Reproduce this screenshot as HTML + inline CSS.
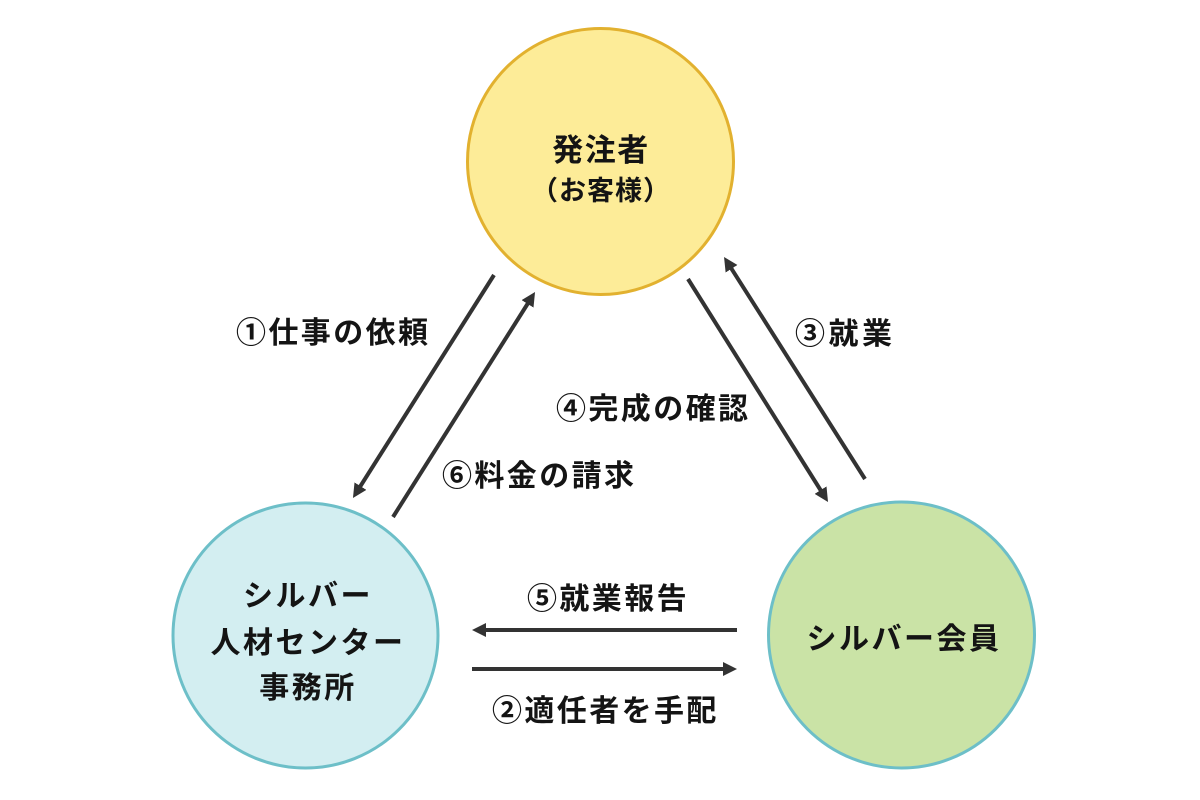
<!DOCTYPE html>
<html>
<head>
<meta charset="utf-8">
<style>
html,body{margin:0;padding:0;background:#fff;}
svg{display:block;}
text{font-family:"Liberation Sans","Noto Sans CJK JP",sans-serif;font-weight:700;fill:#141414;}
</style>
</head>
<body>
<svg width="1200" height="800" viewBox="0 0 1200 800" xmlns="http://www.w3.org/2000/svg">
<defs>
<marker id="ah" markerUnits="userSpaceOnUse" markerWidth="16" markerHeight="16" refX="4" refY="7" orient="auto">
<path d="M0,0 L14,7 L0,14 z" fill="#333"/>
</marker>
</defs>

<!-- circles -->
<circle cx="600.5" cy="161.5" r="133" fill="#fdec98" stroke="#e2b12f" stroke-width="3"/>
<circle cx="305.5" cy="635.5" r="132.5" fill="#d3eef1" stroke="#6dbfc8" stroke-width="3"/>
<circle cx="901.5" cy="635" r="133" fill="#cae3a6" stroke="#6dbfc8" stroke-width="3"/>

<!-- arrows -->
<g stroke="#333" stroke-width="4" fill="none">
<line x1="494" y1="275" x2="358.3" y2="489.5" marker-end="url(#ah)"/>
<line x1="393" y1="517" x2="529.7" y2="300.5" marker-end="url(#ah)"/>
<line x1="688" y1="279" x2="822.7" y2="493.5" marker-end="url(#ah)"/>
<line x1="865" y1="479" x2="729.4" y2="265.4" marker-end="url(#ah)"/>
<line x1="737" y1="630" x2="482" y2="630" marker-end="url(#ah)"/>
<line x1="472" y1="669" x2="727" y2="669" marker-end="url(#ah)"/>
</g>

<!-- circle texts -->
<text x="601" y="161" font-size="31" letter-spacing="1.5" text-anchor="middle">発注者</text>
<text x="601" y="200" font-size="27" letter-spacing="1" text-anchor="middle">（お客様）</text>

<text x="308" y="606" font-size="30" letter-spacing="2.5" text-anchor="middle">シルバー</text>
<text x="308" y="653" font-size="30" letter-spacing="2.5" text-anchor="middle">人材センター</text>
<text x="308" y="698" font-size="30" letter-spacing="2.5" text-anchor="middle">事務所</text>

<text x="904" y="649" font-size="30" letter-spacing="2.5" text-anchor="middle">シルバー会員</text>

<!-- labels -->
<text x="236" y="343" font-size="30" letter-spacing="2.4">①仕事の依頼</text>
<text x="795" y="344" font-size="30" letter-spacing="3.5">③就業</text>
<text x="556" y="419" font-size="30" letter-spacing="2.4">④完成の確認</text>
<text x="442" y="486" font-size="30" letter-spacing="2.4">⑥料金の請求</text>
<text x="527" y="609" font-size="30" letter-spacing="2.4">⑤就業報告</text>
<text x="492" y="721" font-size="30" letter-spacing="2.4">②適任者を手配</text>
</svg>
</body>
</html>
